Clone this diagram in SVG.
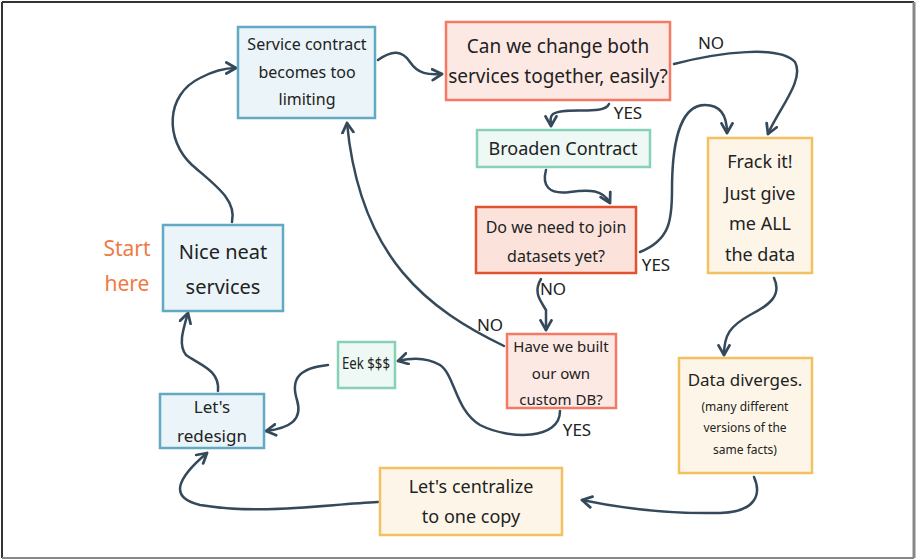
<svg xmlns="http://www.w3.org/2000/svg" width="917" height="560" viewBox="0 0 917 560">
<defs>
<marker id="arr" viewBox="0 0 10 10" refX="8" refY="5" markerWidth="5.5" markerHeight="5.5" orient="auto" markerUnits="strokeWidth">
<path d="M1,1 L8,5 L1,9" fill="none" stroke="#34495a" stroke-width="2" stroke-linecap="round" stroke-linejoin="round"/>
</marker>
</defs>
<style>
text{font-family:"Noto Sans","Liberation Sans",sans-serif;fill:#222;text-anchor:middle}
.blue{fill:#ebf5f9;stroke:#62a9c4;stroke-width:2.5}
.pink{fill:#fde9e4;stroke:#f47a66;stroke-width:2.5}
.red{fill:#fbe3dc;stroke:#e2522f;stroke-width:2.5}
.mint{fill:#eef8f5;stroke:#86d1b8;stroke-width:2.5}
.yel{fill:#fdf6e8;stroke:#f3c062;stroke-width:2.5}
.c path{fill:none;stroke:#34495a;stroke-width:2.5;stroke-linecap:round;marker-end:url(#arr)}
.lbl{font-size:17px}
</style>
<rect x="0" y="0" width="917" height="560" fill="#fff"/>
<line x1="2" y1="2" x2="914" y2="2" stroke="#333" stroke-width="2"/>
<line x1="2" y1="2" x2="2" y2="558" stroke="#333" stroke-width="2"/>
<line x1="914" y1="2" x2="914" y2="558" stroke="#888" stroke-width="3"/>
<line x1="2" y1="558" x2="914" y2="558" stroke="#888" stroke-width="2"/>

<g class="c" id="connectors">
<path d="M378,60 C392,50 402,50 410,62 C418,74 428,75 442,74"/>
<path d="M609,104 C604,116 565,106 553,114 C549,117 551,122 551,126"/>
<path d="M674,64 C720,52 780,45 795,62 C805,80 778,110 768,134"/>
<path d="M546,170 C542,185 548,195 570,192 C590,189 603,190 610,203"/>
<path d="M640,252 C670,240 672,220 672,190 C672,150 678,105 705,105 C720,105 727,115 727,133"/>
<path d="M541,279 C533,292 540,300 546,310 L546,330"/>
<path d="M774,278 C782,295 770,305 750,315 C730,326 724,335 724,355"/>
<path d="M504,346 C430,310 360,260 347,123"/>
<path d="M560,411 C560,440 510,440 480,425 C455,410 455,375 440,365 C425,356 410,358 398,361"/>
<path d="M328,365 C300,368 290,378 297,400 C303,420 290,428 266,431"/>
<path d="M218,391 C220,370 200,365 186,355 C178,345 183,330 188,313"/>
<path d="M232,222 C237,200 215,185 192,165 C165,140 165,95 200,78 C215,70 225,68 236,68"/>
<path d="M378,502 C320,505 260,515 200,505 C170,498 175,480 207,453"/>
<path d="M754,477 C762,495 755,512 720,513 C670,514 620,508 582,500"/>
</g>

<g id="labels">
<text class="lbl" x="711" y="49">NO</text>
<text class="lbl" x="628" y="119">YES</text>
<text class="lbl" x="656" y="271">YES</text>
<text class="lbl" x="553" y="295">NO</text>
<text class="lbl" x="490" y="331">NO</text>
<text class="lbl" x="577" y="436">YES</text>
</g>

<g id="service-contract">
<rect class="blue" x="238" y="27" width="137" height="91"/>
<text x="307" y="50" font-size="16">Service contract</text>
<text x="307" y="78" font-size="16">becomes too</text>
<text x="307" y="105" font-size="16">limiting</text>
</g>
<g id="can-we-change">
<rect class="pink" x="446" y="22" width="224" height="78"/>
<text x="558" y="53" font-size="19">Can we change both</text>
<text x="558" y="83" font-size="19">services together, easily?</text>
</g>
<g id="broaden">
<rect class="mint" x="477" y="130" width="173" height="37"/>
<text x="563" y="155" font-size="18">Broaden Contract</text>
</g>
<g id="join-datasets">
<rect class="red" x="476" y="207" width="160" height="66"/>
<text x="556" y="233" font-size="16">Do we need to join</text>
<text x="556" y="262" font-size="16">datasets yet?</text>
</g>
<g id="frack-it">
<rect class="yel" x="708" y="138" width="104" height="135"/>
<text x="760" y="168" font-size="18">Frack it!</text>
<text x="760" y="200" font-size="18">Just give</text>
<text x="760" y="230" font-size="18">me ALL</text>
<text x="760" y="261" font-size="18">the data</text>
</g>
<g id="start-here">
<text x="127" y="256" font-size="21" style="fill:#f07a45">Start</text>
<text x="127" y="291" font-size="21" style="fill:#f07a45">here</text>
</g>
<g id="nice-neat">
<rect class="blue" x="163" y="225" width="120" height="86"/>
<text x="223" y="259" font-size="20">Nice neat</text>
<text x="223" y="294" font-size="20">services</text>
</g>
<g id="custom-db">
<rect class="pink" x="507" y="334" width="109" height="74"/>
<text x="561" y="352" font-size="15">Have we built</text>
<text x="561" y="379" font-size="15">our own</text>
<text x="561" y="405" font-size="15">custom DB?</text>
</g>
<g id="eek">
<rect class="mint" x="338" y="342" width="57" height="46"/>
<text x="366" y="369" font-size="16" textLength="48" lengthAdjust="spacingAndGlyphs">Eek $$$</text>
</g>
<g id="redesign">
<rect class="blue" x="160" y="394" width="104" height="54"/>
<text x="212" y="413" font-size="17">Let's</text>
<text x="212" y="442" font-size="17">redesign</text>
</g>
<g id="data-diverges">
<rect class="yel" x="679" y="358" width="133" height="115"/>
<text x="745" y="386" font-size="17">Data diverges.</text>
<text x="745" y="411" font-size="12">(many different</text>
<text x="745" y="432" font-size="12">versions of the</text>
<text x="745" y="454" font-size="12">same facts)</text>
</g>
<g id="centralize">
<rect class="yel" x="380" y="468" width="182" height="67"/>
<text x="471" y="493" font-size="18">Let's centralize</text>
<text x="471" y="523" font-size="18">to one copy</text>
</g>
</svg>
